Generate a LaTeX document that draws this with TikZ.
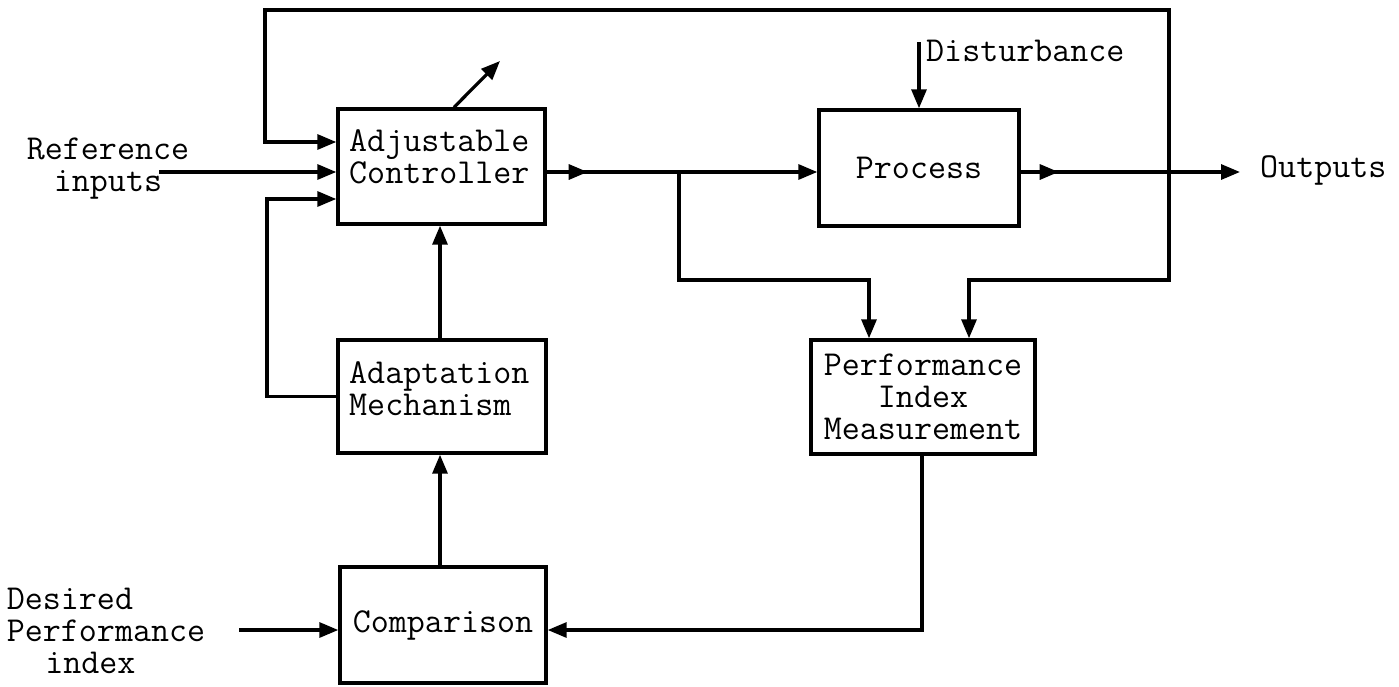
\documentclass[tikz,border=0pt]{standalone}
\usetikzlibrary{arrows.meta,decorations.markings}

\begin{document}
\begin{tikzpicture}[x=1pt,y=-1pt,
	every node/.style={font=\ttfamily\fontsize{35}{32}\selectfont,inner sep=0pt},
	blk/.style={draw,line width=3.4pt,rectangle},
	arr/.style={line width=3.2pt,-{Triangle[length=19pt,width=15pt]}},
	headnear/.style={postaction={decorate,decoration={markings,
		mark=at position #1 with {\arrow{Triangle[length=19pt,width=15pt]}}}}}]
	\useasboundingbox (0,0) rectangle (1399,686);
	
	\node[blk,minimum width=207pt,minimum height=115pt] (ctrl) at (441.5,166.5) {};
	\node[anchor=west,align=left] (ctrltxt) at (349,157) {Adjustable\\Controller};
	\node[blk,minimum width=200pt,minimum height=116pt] (proc) at (919,168) {Process};
	\node[blk,minimum width=208pt,minimum height=113pt] (adapt) at (442,396.5) {};
	\node[anchor=west,align=left] (adapttxt) at (349,389) {Adaptation\\Mechanism};
	\node[blk,minimum width=206pt,minimum height=116pt] (comp) at (443,625) {Comparison};
	\node[blk,minimum width=224pt,minimum height=114pt,align=center] (pim) at (923,397) {Performance\\Index\\Measurement};
	
	\node[align=center] (refin) at (108,169) {Reference\\inputs};
	\node[align=left] (desired) at (106,631) {Desired\\Performance\\\hspace*{1.1em}index};
	\node[anchor=west] (dist) at (926,51) {Disturbance};
	\node[anchor=west] (outs) at (1260,170) {Outputs};
	
	\coordinate (refend) at (159,172);
	\coordinate (desend) at (239,630);
	\coordinate (distop) at (919,42);
	\coordinate (tune) at (500,61);
	\coordinate (outend) at (1240,172);
	\coordinate (br1) at (679,172);
	\coordinate (br2) at (1169,172);
	\coordinate (toploop) at (265,10);
	\coordinate (sideloop) at (267,199);
	\coordinate (busy) at (0,280);
	
	\draw[arr] (refend) -- (ctrl.west |- refend);
	\draw[arr] (br2) |- (toploop) |- ([yshift=24.5pt]ctrl.west);
	\draw[arr] (adapt.west) -| (sideloop) -- (ctrl.west |- sideloop);
	\draw[arr] ([xshift=12.5pt]ctrl.north) -- (tune);
	\draw[arr,headnear=41pt] (ctrl.east |- refend) -- (proc.west |- refend);
	\draw[arr] (distop) -- (proc.north);
	\draw[arr,headnear=38pt] (proc.east |- refend) -- (outend);
	\draw[arr] (br1) |- ([xshift=-54pt]pim.north |- busy) -- ([xshift=-54pt]pim.north);
	\draw[arr] (br2) |- ([xshift=46pt]pim.north |- busy) -- ([xshift=46pt]pim.north);
	\draw[arr] ([xshift=-2pt]adapt.north) -- ([xshift=-2pt]adapt.north |- ctrl.south);
	\draw[arr] ([xshift=-3pt]comp.north) -- ([xshift=-3pt]comp.north |- adapt.south);
	\draw[arr] (desend) -- (comp.west |- desend);
	\draw[arr] ([xshift=-1pt]pim.south) |- (comp.east |- desend);
	
	\end{tikzpicture}
\end{document}
